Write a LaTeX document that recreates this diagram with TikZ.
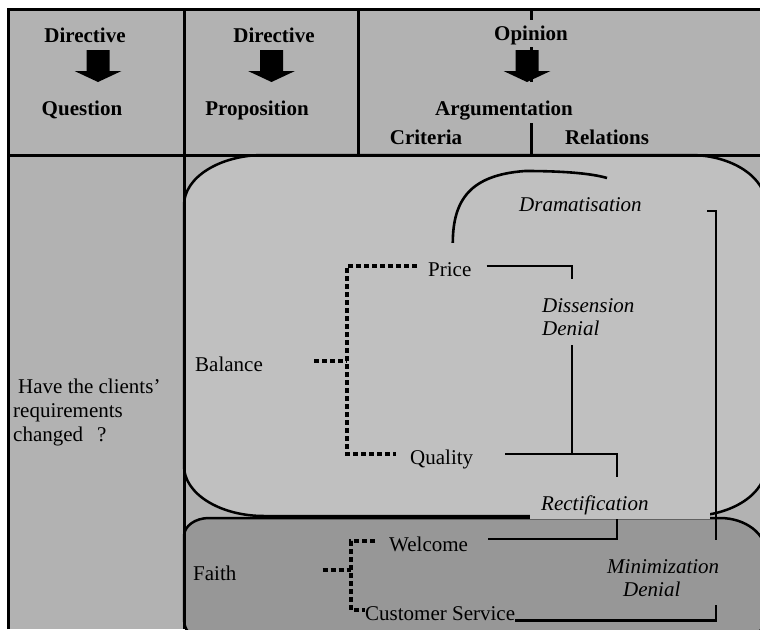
\documentclass[tikz,border=0pt]{standalone}
\usepackage{fontspec}
\setmainfont{Liberation Serif}
\definecolor{hdr}{HTML}{B2B2B2}
\definecolor{bal}{HTML}{C0C0C0}
\definecolor{fth}{HTML}{979797}
\begin{document}
\begin{tikzpicture}[x=1pt,y=-1pt,
  grid/.style={line width=3pt},
  shapeline/.style={draw=black,line width=2.5pt},
  hd/.style={font=\fontsize{21}{22}\selectfont\bfseries,inner sep=0pt,anchor=base},
  txt/.style={font=\fontsize{21}{22}\selectfont,inner sep=0pt,text height=20pt,text depth=0pt,anchor=base west},
  itl/.style={font=\fontsize{21}{23}\selectfont\itshape,inner sep=0pt,align=left},
  tree/.style={line width=3.5pt,dash pattern=on 5pt off 3pt},
  rel/.style={line width=2.6pt},
  blockarrow/.pic={\fill (-11.5,0) -- (11.5,0) -- (11.5,21) -- (23.5,21) -- (0,32) -- (-23.5,21) -- (-11.5,21) -- cycle;}
]
\useasboundingbox (0,0) rectangle (760,629);
\clip (0,0) rectangle (760,629);

% table background
\fill[hdr] (8,9) rectangle (760,629);

% Balance area
\path[fill=bal,shapeline] (264,155) -- (690,155)
  arc[start angle=270,end angle=360,x radius=76,y radius=50] -- (766,466)
  arc[start angle=0,end angle=90,x radius=76,y radius=50] -- (264,516)
  arc[start angle=90,end angle=180,x radius=80,y radius=50] -- (184,205)
  arc[start angle=180,end angle=270,x radius=80,y radius=50] -- cycle;

% Faith area
\path[fill=fth,shapeline] (209,518) -- (720,518)
  arc[start angle=270,end angle=360,x radius=46,y radius=35] -- (766,620)
  arc[start angle=0,end angle=90,x radius=46,y radius=22] -- (209,642)
  arc[start angle=90,end angle=180,x radius=25,y radius=22] -- (184,536)
  arc[start angle=180,end angle=270,x radius=25,y radius=18] -- cycle;

% table rules
\draw[grid] (8,629) -- (8,9) -- (760,9);
\draw[grid] (8,155) -- (760,155);
\draw[grid] (184,9) -- (184,629);
\draw[grid] (358,9) -- (358,155);
\draw[grid] (531,9) -- (531,82);
\draw[grid] (531,123) -- (531,155);

% header
\node[hd] (d1) at (85,42) {Directive};
\node[hd] (q1) at (82,115) {Question};
\node[hd] (d2) at (274,42) {Directive};
\node[hd] (p2) at (257,115) {Proposition};
\node[hd,fill=hdr,text height=20pt,text depth=7pt,inner xsep=2pt] (op) at (531,40) {Opinion};
\node[hd,fill=hdr,text height=33pt,text depth=8pt] (arg) at (504,115) {Argumentation};
\node[hd] (cr) at (426,144) {Criteria};
\node[hd] (re) at (607,144) {Relations};
\pic at (98,50) {blockarrow};
\pic at (271.5,50) {blockarrow};
\pic at (527,50) {blockarrow};

% question
\node[font=\fontsize{21}{24}\selectfont,inner sep=0pt,align=left,anchor=north west] (qq) at (13,377)
  {\hspace*{5pt}\rule{0pt}{16pt}Have the clients’\\requirements\\changed\hspace{14pt}?};

% criteria and items
\node[txt] (bal) at (195,371) {Balance};
\node[txt] (price) at (428,276) {Price};
\node[txt] (qual) at (410,464) {Quality};
\node[txt] (faith) at (193,580) {Faith};
\node[txt] (wel) at (389,551) {Welcome};
\node[txt] (cs) at (365,620) {Customer Service};
\node[itl,anchor=base west] (dram) at (519,211) {Dramatisation};

\coordinate (bj) at (347,361);
\coordinate (fj) at (351,570);
\coordinate (tq) at (572,0);
\coordinate (rq) at (617,539);
\coordinate (brk) at (707,211);
\coordinate (mx) at (716,0);
\coordinate (dr) at (607,178);

% criteria trees
\draw[tree,shorten <=11pt,shorten >=14pt] (price.west) -| (bj) |- (qual.west);
\draw[tree,shorten <=51pt] (bal.east) -- (bal.east -| bj);
\draw[tree,shorten <=14pt] (wel.west) -| (fj) |- (cs.west);
\draw[tree,shorten <=86pt] (faith.east) -- (faith.east -| fj);

% relations
\draw[rel,shorten <=15pt] (price.east) -| (tq |- qual.east);
\draw[rel,shorten <=32pt,shorten >=20pt] (qual.east) -| (rq) -- (rq -| wel.east);
\draw[rel] (brk) -- (brk -| mx) |- (cs.south east);
\draw[rel] ([xshift=3pt,yshift=13pt]price.north) .. controls (453,200) and (470,175) .. (525,171)
  .. controls (560,171) and (590,173) .. (dr);

% relation labels
\node[itl,fill=bal,inner xsep=2pt,anchor=north west] (dd) at (540,279)
  {\rule{0pt}{33pt}Dissension\\Denial\rule[-10pt]{0pt}{10pt}};
\node[itl,fill=bal,text width=180pt,anchor=north west] (rc) at (530,477)
  {\hspace*{11pt}\rule{0pt}{33pt}Rectification\rule[-8.5pt]{0pt}{8.5pt}};
\node[itl,fill=fth,inner xsep=2pt,anchor=north west] (mz) at (605,540)
  {\rule{0pt}{33pt}Minimization\\\hspace*{16pt}Denial\rule[-9pt]{0pt}{9pt}};
\end{tikzpicture}
\end{document}
